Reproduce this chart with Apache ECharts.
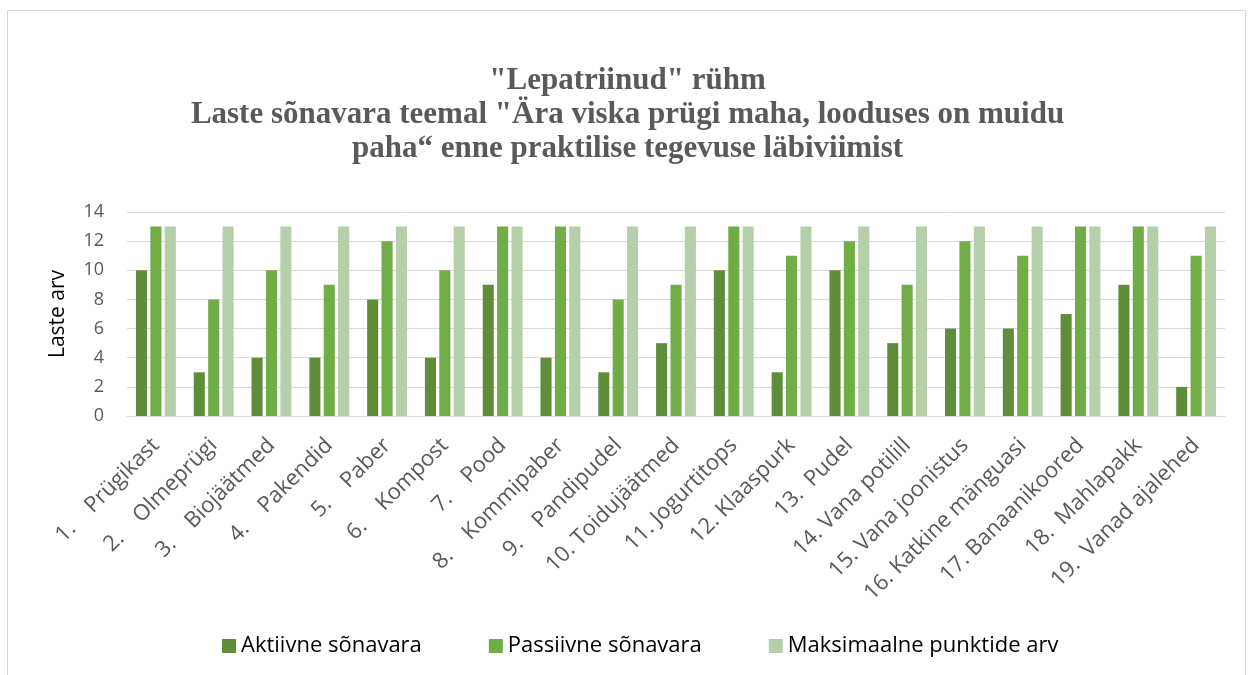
<!DOCTYPE html>
<html>
<head>
<meta charset="utf-8">
<script src="https://cdn.jsdelivr.net/npm/echarts@6/dist/echarts.min.js"></script>
<style type="text/css">
	body{margin:0;background:#fff}
	#main{width:1255px;height:675px;}
</style>
</head>
<body>
<div id="main"></div>
<script type="text/javascript">
// kategooriad (x-telg)
var categories = ['1.    Prügikast', '2.    Olmeprügi', '3.    Biojäätmed', '4.    Pakendid', '5.    Paber',
	'6.    Kompost', '7.    Pood', '8.    Kommipaber', '9.    Pandipudel', '10. Toidujäätmed',
	'11. Jogurtitops', '12. Klaaspurk', '13.  Pudel', '14. Vana potilill', '15. Vana joonistus',
	'16. Katkine mänguasi', '17. Banaanikoored', '18.  Mahlapakk', '19.  Vanad ajalehed'];
// seeriad
var aktiivne = [10, 3, 4, 4, 8, 4, 9, 4, 3, 5, 10, 3, 10, 5, 6, 6, 7, 9, 2];
var passiivne = [13, 8, 10, 9, 12, 10, 13, 13, 8, 9, 13, 11, 12, 9, 12, 11, 13, 13, 11];
var maksimaalne = [13, 13, 13, 13, 13, 13, 13, 13, 13, 13, 13, 13, 13, 13, 13, 13, 13, 13, 13];
var seriesNames = ['Aktiivne sõnavara', 'Passiivne sõnavara', 'Maksimaalne punktide arv'];
var colors = ['#5e8e3a', '#70ad47', '#b5cfaa'];

var chart = echarts.init(document.getElementById('main'));
var labelFont = '"Open Sans", "Noto Sans", sans-serif';

var option = {
	animation: false,
	color: colors,
	title: {
		text: '"Lepatriinud" rühm\nLaste sõnavara teemal "Ära viska prügi maha, looduses on muidu\npaha“ enne praktilise tegevuse läbiviimist',
		left: 'center',
		top: 59,
		textStyle: {
			fontFamily: '"Liberation Serif", serif',
			fontWeight: 'bold',
			fontSize: 31,
			lineHeight: 34,
			color: '#595959'
		}
	},
	// legend all
	legend: {
		top: 630,
		left: 217,
		itemWidth: 14,
		itemHeight: 14,
		itemGap: 67,
		icon: 'rect',
		textStyle: {fontFamily: labelFont, fontSize: 22, color: '#000'},
		data: seriesNames
	},
	grid: {left: 127, right: 30, top: 212, bottom: 259},
	xAxis: {
		type: 'category',
		data: categories,
		axisLine: {lineStyle: {color: '#d9d9d9', width: 1}},
		axisTick: {show: false},
		axisLabel: {
			interval: 0,
			rotate: 45,
			margin: 26,
			fontFamily: labelFont,
			fontSize: 22,
			color: '#595959'
		}
	},
	yAxis: {
		type: 'value',
		min: 0,
		max: 14,
		interval: 2,
		name: 'Laste arv',
		nameLocation: 'middle',
		nameGap: 58,
		nameTextStyle: {fontFamily: labelFont, fontSize: 21, color: '#000'},
		axisLine: {show: false},
		axisTick: {show: false},
		splitLine: {lineStyle: {color: '#d9d9d9', width: 1}},
		axisLabel: {margin: 23, fontFamily: labelFont, fontSize: 18, color: '#595959'}
	},
	graphic: [{
		type: 'rect',
		shape: {x: 7.5, y: 10.5, width: 1238, height: 700},
		style: {fill: 'none', stroke: '#d9d9d9', lineWidth: 1},
		silent: true
	}],
	series: [
		{name: seriesNames[0], type: 'bar', data: aktiivne, barGap: '30%', barCategoryGap: '31%'},
		{name: seriesNames[1], type: 'bar', data: passiivne},
		{name: seriesNames[2], type: 'bar', data: maksimaalne}
	]
};
chart.setOption(option);
</script>
</body>
</html>
